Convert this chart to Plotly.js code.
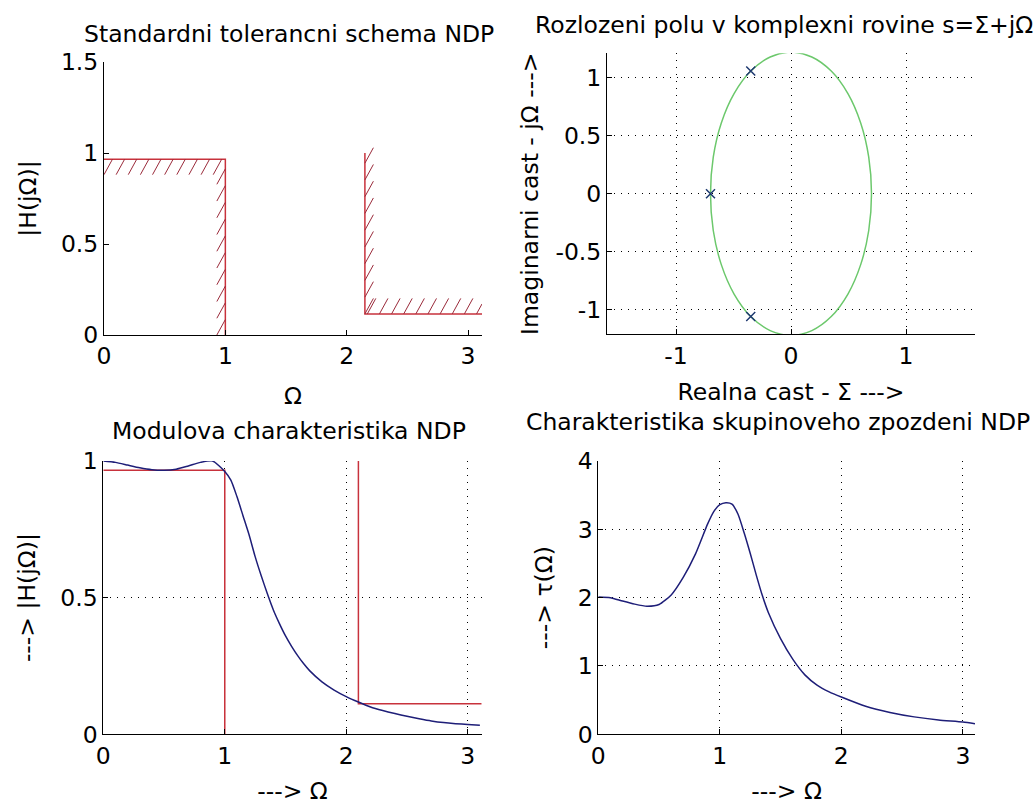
<!DOCTYPE html>
<html>
<head>
<meta charset="utf-8">
<script src="https://cdn.plot.ly/plotly-3.0.1.min.js"></script>
<style>html,body{margin:0;padding:0;background:#fff;}#chart{width:1033px;height:805px;}</style>
</head>
<body>
<div id="chart"></div>
<script>
// ---------- data ----------
// Tolerance scheme (top-left)
const passEdge = 1.0;
const passLevel = 0.966;
const stopEdgeScheme = 2.15;
const stopLevelScheme = 0.116;
const stopTopScheme = 1.0;
// Tolerance lines in magnitude plot (bottom-left)
const stopEdgeMag = 2.1;
const stopLevelMag = 0.112;
const stopTopMag = 1.0;

// Poles (top-right)
const poleRe = [-0.35, -0.70, -0.35];
const poleIm = [1.057, 0.0, -1.057];
// Ellipse through the poles
const ellRe = [0.70, 0.676, 0.606, 0.495, 0.35, 0.181, 0.0, -0.181, -0.35, -0.495, -0.606, -0.676, -0.70,
               -0.676, -0.606, -0.495, -0.35, -0.181, 0.0, 0.181, 0.35, 0.495, 0.606, 0.676, 0.70];
const ellIm = [0.0, 0.316, 0.61, 0.863, 1.057, 1.178, 1.22, 1.178, 1.057, 0.863, 0.61, 0.316, 0.0,
               -0.316, -0.61, -0.863, -1.057, -1.178, -1.22, -1.178, -1.057, -0.863, -0.61, -0.316, 0.0];

// Magnitude response (bottom-left)
const omegaMag = [0, 0.1, 0.2, 0.3, 0.4, 0.5, 0.6, 0.7, 0.8, 0.9, 1.0, 1.05, 1.1, 1.15, 1.2, 1.25, 1.3, 1.35,
                  1.4, 1.45, 1.5, 1.55, 1.6, 1.65, 1.7, 1.8, 1.9, 2.0, 2.1, 2.2, 2.3, 2.4, 2.5, 2.6, 2.7, 2.8, 2.9, 3.0, 3.1];
const magH = [1.0, 0.995, 0.985, 0.975, 0.968, 0.966, 0.970, 0.982, 0.995, 1.0, 0.962, 0.93, 0.87, 0.80, 0.73,
              0.65, 0.58, 0.515, 0.455, 0.405, 0.36, 0.322, 0.288, 0.258, 0.232, 0.192, 0.162, 0.138, 0.118, 0.10,
              0.087, 0.076, 0.066, 0.057, 0.049, 0.043, 0.039, 0.036, 0.033];

// Group delay (bottom-right)
const omegaTau = [0, 0.1, 0.2, 0.3, 0.4, 0.5, 0.6, 0.7, 0.8, 0.9, 0.95, 1.0, 1.05, 1.1, 1.15, 1.2, 1.25, 1.3,
                  1.35, 1.4, 1.5, 1.6, 1.7, 1.8, 1.9, 2.0, 2.2, 2.4, 2.6, 2.8, 3.0, 3.1];
const tau = [2.01, 2.0, 1.95, 1.905, 1.875, 1.9, 2.04, 2.3, 2.64, 3.08, 3.26, 3.36, 3.39, 3.37, 3.22, 2.95,
             2.65, 2.33, 2.03, 1.78, 1.40, 1.10, 0.87, 0.72, 0.62, 0.545, 0.41, 0.32, 0.255, 0.21, 0.18, 0.155];

// Tick labels
const ticksOmega = [0, 1, 2, 3];
const ticksOmegaText = ['0', '1', '2', '3'];
const ticksScheme = [0, 0.5, 1, 1.5];
const ticksSchemeText = ['0', '0.5', '1', '1.5'];
const ticksRe = [-1, 0, 1];
const ticksReText = ['-1', '0', '1'];
const ticksIm = [-1, -0.5, 0, 0.5, 1];
const ticksImText = ['-1', '-0.5', '0', '0.5', '1'];
const ticksMag = [0, 0.5, 1];
const ticksMagText = ['0', '0.5', '1'];
const ticksTau = [0, 1, 2, 3, 4];
const ticksTauText = ['0', '1', '2', '3', '4'];

// ---------- helpers ----------
const xMaxL = 3.115, xMaxR = 3.1;
const RED = '#c8323c', BLUE = '#1e1e78', GREEN = '#6cc86c', HATCH = '#9a2a3a';

function hatchSegments(segs) {
  const x = [], y = [];
  segs.forEach(s => { x.push(s[0], s[2], null); y.push(s[1], s[3], null); });
  return {x, y};
}
function schemeHatch() {
  const segs = [];
  const hx = 0.07, hy = 0.085;
  for (let x = 0.0; x <= passEdge - 0.06; x += 0.1) segs.push([x, passLevel - hy, x + hx, passLevel]);
  for (let y = 0.0; y <= passLevel - 0.12; y += 0.092) segs.push([passEdge - hx, y, passEdge, y + hy]);
  for (let y = stopLevelScheme; y <= stopTopScheme - 0.02; y += 0.092) segs.push([stopEdgeScheme, y, stopEdgeScheme + hx, y + hy]);
  for (let x = stopEdgeScheme + 0.02; x <= xMaxL - 0.02; x += 0.1) segs.push([x, stopLevelScheme, Math.min(x + hx, xMaxL), stopLevelScheme + hy * Math.min(1, (xMaxL - x) / hx)]);
  return hatchSegments(segs);
}
const hatch = schemeHatch();

const traces = [
  {x: [0, passEdge, passEdge], y: [passLevel, passLevel, 0], xaxis: 'x', yaxis: 'y', mode: 'lines', line: {color: RED, width: 1.5}},
  {x: [stopEdgeScheme, stopEdgeScheme, xMaxL], y: [stopTopScheme, stopLevelScheme, stopLevelScheme], xaxis: 'x', yaxis: 'y', mode: 'lines', line: {color: RED, width: 1.5}},
  {x: hatch.x, y: hatch.y, xaxis: 'x', yaxis: 'y', mode: 'lines', line: {color: HATCH, width: 1}, connectgaps: false},
  {x: ellRe, y: ellIm, xaxis: 'x2', yaxis: 'y2', mode: 'lines', line: {color: GREEN, width: 1.5, shape: 'spline'}},
  {x: poleRe, y: poleIm, xaxis: 'x2', yaxis: 'y2', mode: 'markers', marker: {symbol: 'x-thin', size: 9, line: {color: '#1f3a70', width: 1.5}}},
  {x: [0, passEdge, passEdge], y: [passLevel, passLevel, 0], xaxis: 'x3', yaxis: 'y3', mode: 'lines', line: {color: RED, width: 1.5}},
  {x: [stopEdgeMag, stopEdgeMag, xMaxL], y: [stopTopMag, stopLevelMag, stopLevelMag], xaxis: 'x3', yaxis: 'y3', mode: 'lines', line: {color: RED, width: 1.5}},
  {x: omegaMag, y: magH, xaxis: 'x3', yaxis: 'y3', mode: 'lines', line: {color: BLUE, width: 1.5, shape: 'spline', smoothing: 0.6}},
  {x: omegaTau, y: tau, xaxis: 'x4', yaxis: 'y4', mode: 'lines', line: {color: BLUE, width: 1.5, shape: 'spline', smoothing: 0.6}}
];

const FS = 23.5;
const gridStyle = {showgrid: true, gridcolor: '#000', gridwidth: 1, griddash: '1px,6px'};
function ax(extra) {
  return Object.assign({
    showline: true, linecolor: '#000', linewidth: 1, ticks: 'inside', ticklen: 5, tickcolor: '#000', tickwidth: 1,
    zeroline: false, showgrid: false, mirror: false, fixedrange: true, automargin: false,
    tickfont: {size: FS, color: '#000'}, tickmode: 'array'
  }, extra);
}
function px(v) { return v / 1033; }
function py(v) { return 1 - v / 805; }

const layout = {
  width: 1033, height: 805,
  margin: {l: 0, r: 0, t: 0, b: 0},
  paper_bgcolor: '#fff', plot_bgcolor: '#fff',
  showlegend: false,
  font: {family: 'DejaVu Sans, sans-serif', size: FS, color: '#000'},
  xaxis: ax({domain: [px(104), px(482)], anchor: 'y', range: [0, xMaxL], tickvals: ticksOmega, ticktext: ticksOmegaText,
    title: {text: 'Ω', standoff: 18, font: {size: FS}}}),
  yaxis: ax({domain: [py(335), py(62)], anchor: 'x', range: [0, 1.5], tickvals: ticksScheme, ticktext: ticksSchemeText,
    title: {text: '|H(jΩ)|', standoff: 17, font: {size: FS}}}),
  xaxis2: ax(Object.assign({domain: [px(607), px(975)], anchor: 'y2', range: [-1.6, 1.6], tickvals: ticksRe, ticktext: ticksReText,
    title: {text: 'Realna cast - Σ --->', standoff: 15, font: {size: FS}}}, gridStyle)),
  yaxis2: ax(Object.assign({domain: [py(334.3), py(53.3)], anchor: 'x2', range: [-1.21, 1.21], tickvals: ticksIm, ticktext: ticksImText,
    title: {text: 'Imaginarni cast - jΩ --->', standoff: 10, font: {size: FS}}}, gridStyle)),
  xaxis3: ax(Object.assign({domain: [px(103.3), px(481.7)], anchor: 'y3', range: [0, xMaxL], tickvals: ticksOmega, ticktext: ticksOmegaText,
    title: {text: '---> Ω', standoff: 17, font: {size: FS}}}, gridStyle)),
  yaxis3: ax(Object.assign({domain: [py(734.3), py(461)], anchor: 'x3', range: [0, 1], tickvals: ticksMag, ticktext: ticksMagText,
    title: {text: '---> |H(jΩ)|', standoff: 17, font: {size: FS}}}, gridStyle)),
  xaxis4: ax(Object.assign({domain: [px(598.3), px(975)], anchor: 'y4', range: [0, xMaxR], tickvals: ticksOmega, ticktext: ticksOmegaText,
    title: {text: '---> Ω', standoff: 17, font: {size: FS}}}, gridStyle)),
  yaxis4: ax(Object.assign({domain: [py(734.3), py(461)], anchor: 'x4', range: [0, 4], tickvals: ticksTau, ticktext: ticksTauText,
    title: {text: '---> τ(Ω)', standoff: 18, font: {size: FS}}}, gridStyle)),
  annotations: [
    {text: 'Standardni tolerancni schema NDP', x: px(288.5), y: py(34), xref: 'paper', yref: 'paper', xanchor: 'center', yanchor: 'middle', showarrow: false, font: {size: FS}},
    {text: 'Rozlozeni polu v komplexni rovine s=Σ+jΩ', x: px(784), y: py(25), xref: 'paper', yref: 'paper', xanchor: 'center', yanchor: 'middle', showarrow: false, font: {size: FS}},
    {text: 'Modulova charakteristika NDP', x: px(288.5), y: py(431), xref: 'paper', yref: 'paper', xanchor: 'center', yanchor: 'middle', showarrow: false, font: {size: FS}},
    {text: 'Charakteristika skupinoveho zpozdeni NDP', x: px(778), y: py(422), xref: 'paper', yref: 'paper', xanchor: 'center', yanchor: 'middle', showarrow: false, font: {size: FS}}
  ]
};

Plotly.newPlot('chart', traces, layout, {staticPlot: true, displayModeBar: false});
</script>
</body>
</html>
